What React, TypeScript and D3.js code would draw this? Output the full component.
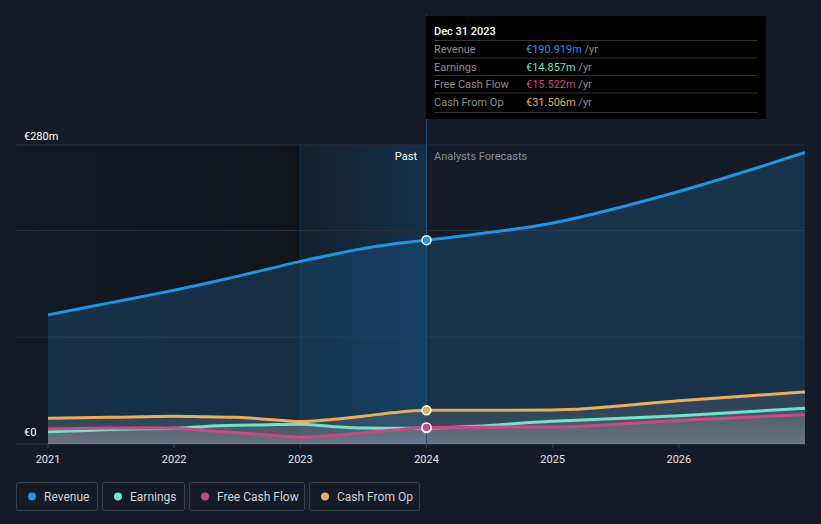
import React from 'react';
import * as d3 from 'd3';

const pastYears = [2021, 2021.25, 2021.5, 2021.75, 2022, 2022.25, 2022.5, 2022.75, 2023, 2023.25, 2023.5, 2023.75, 2024];
const forecastYears = [2024, 2025, 2026, 2027];

const revenuePast = [121, 126.7, 132.4, 138.2, 144, 150.3, 157, 164, 171, 177.2, 183, 187.5, 190.919];
const revenueForecast = [190.919, 207, 236.5, 273];
const earningsPast = [11.5, 12.5, 13.5, 14.2, 14.7, 16.5, 17.5, 18, 18.4, 16.5, 15, 14.8, 14.857];
const earningsForecast = [14.857, 21.2, 26.5, 33.4];
const fcfPast = [14, 14.5, 15, 15, 14.7, 12.5, 10.5, 8.5, 6.3, 8, 10.5, 13, 15.522];
const fcfForecast = [15.522, 16, 22, 27.5];
const cfoPast = [24, 24.5, 25, 25.5, 26, 25.5, 25, 23, 21, 23, 26, 29.5, 31.506];
const cfoForecast = [31.506, 31.8, 40.5, 48.7];

const xTicks = [2021, 2022, 2023, 2024, 2025, 2026];
const yGrid = [0, 100, 200, 280];

type Series = { name: string; color: string; past: number[]; forecast: number[]; tip: string };

const series: Series[] = [
  { name: 'Revenue', color: '#2394e0', past: revenuePast, forecast: revenueForecast, tip: '€190.919m' },
  { name: 'Earnings', color: '#6fe3cb', past: earningsPast, forecast: earningsForecast, tip: '€14.857m' },
  { name: 'Free Cash Flow', color: '#c94a82', past: fcfPast, forecast: fcfForecast, tip: '€15.522m' },
  { name: 'Cash From Op', color: '#e9ae5c', past: cfoPast, forecast: cfoForecast, tip: '€31.506m' },
];

const W = 821;
const H = 524;
const left = 16;
const right = 805;
const bottom = 444;

const x = d3.scaleLinear().domain([2021, 2027]).range([48, 805]);
const y = d3.scaleLinear().domain([0, 280]).range([bottom, 145]);

function points(s: Series): [number, number][] {
  const p: [number, number][] = pastYears.map((yr, i) => [yr, s.past[i]]);
  forecastYears.slice(1).forEach((yr, i) => p.push([yr, s.forecast[i + 1]]));
  return p;
}

const line = d3
  .line<[number, number]>()
  .x((d) => x(d[0]))
  .y((d) => y(d[1]))
  .curve(d3.curveMonotoneX);

const area = d3
  .area<[number, number]>()
  .x((d) => x(d[0]))
  .y0(bottom)
  .y1((d) => y(d[1]))
  .curve(d3.curveMonotoneX);

const font = 'Roboto, "Open Sans", Arial, sans-serif';

export default function App() {
  const x2023 = x(2023);
  const x2024 = x(2024);
  const legendW = [81, 82, 115, 110];
  let lx = 16;
  return (
    <svg width={W} height={H} style={{ position: 'absolute', left: 0, top: 0 }} fontFamily={font}>
      <defs>
        <linearGradient id="pastBg" x1="0" x2="1" y1="0" y2="0">
          <stop offset="0" stopColor="#141a24" />
          <stop offset="1" stopColor="#10141b" />
        </linearGradient>
        <linearGradient id="hiBg" x1="0" x2="1" y1="0" y2="0">
          <stop offset="0" stopColor="#12202e" />
          <stop offset="1" stopColor="#13304a" />
        </linearGradient>
        <linearGradient id="grayFill" x1="0" x2="0" y1="0" y2="1">
          <stop offset="0" stopColor="#8a8a8a" stopOpacity="0.18" />
          <stop offset="1" stopColor="#9a9aa8" stopOpacity="0.28" />
        </linearGradient>
        <clipPath id="plot">
          <rect x={left} y={100} width={right - left} height={bottom - 100} />
        </clipPath>
      </defs>
      <rect width={W} height={H} fill="#151b26" />
      <rect x={left} y={145} width={x2023 - left} height={bottom - 145} fill="url(#pastBg)" />
      <rect x={x2023} y={145} width={x2024 - x2023} height={bottom - 145} fill="url(#hiBg)" />
      <line x1={x2023} x2={x2023} y1={145} y2={bottom} stroke="#172f45" strokeWidth={1} />

      {yGrid.map((v) => (
        <line key={v} x1={left} x2={right} y1={y(v)} y2={y(v)} stroke={v === 0 ? '#3a404c' : '#2a303b'} strokeWidth={1} />
      ))}

      <g clipPath="url(#plot)">
        <path d={area(points(series[0])) || ''} fill="#1f5f90" fillOpacity={0.35} />
        {[series[3], series[1], series[2]].map((s) => (
          <path key={s.name + 'a'} d={area(points(s)) || ''} fill="url(#grayFill)" />
        ))}
        {series.map((s) => (
          <path key={s.name} d={line(points(s)) || ''} fill="none" stroke={s.color} strokeWidth={3} />
        ))}
      </g>

      <line x1={x2024} x2={x2024} y1={15} y2={bottom} stroke="#1f4f73" strokeWidth={1} />
      {series.map((s) => (
        <circle key={s.name + 'c'} cx={x2024} cy={y(s.past[s.past.length - 1])} r={4.5} fill={s.color} stroke="#fff" strokeWidth={1.5} />
      ))}

      {xTicks.map((t) => (
        <g key={t}>
          <line x1={x(t)} x2={x(t)} y1={bottom} y2={bottom + 4} stroke="#3a404c" />
          <text x={x(t)} y={463} textAnchor="middle" fontSize={11} fill="#e6e6e6">
            {t}
          </text>
        </g>
      ))}

      <text x={24} y={140} fontSize={11} fill="#ffffff">€280m</text>
      <text x={24} y={436} fontSize={11} fill="#ffffff">€0</text>
      <text x={417} y={160} fontSize={11} fill="#ffffff" textAnchor="end">Past</text>
      <text x={434} y={160} fontSize={11} fill="#8a8f98">Analysts Forecasts</text>

      <g>
        <rect x={426} y={16} width={340} height={103} fill="#000000" />
        <text x={434} y={35} fontSize={11} fill="#ffffff" fontWeight={500}>Dec 31 2023</text>
        {series.map((s, i) => {
          const ry = 49 + i * 17.5;
          return (
            <g key={s.name + 't'}>
              <line x1={434} x2={758} y1={ry - 8.5} y2={ry - 8.5} stroke="#333" />
              <text x={434} y={ry + 4} fontSize={11} fill="#8d8d8d">{s.name}</text>
              <text x={526} y={ry + 4} fontSize={11} fill={s.color}>
                {s.tip}
                <tspan fill="#8d8d8d"> /yr</tspan>
              </text>
            </g>
          );
        })}
        <line x1={434} x2={758} y1={112.5} y2={112.5} stroke="#333" />
      </g>

      {series.map((s, i) => {
        const bx = lx;
        lx += legendW[i] + 5;
        return (
          <g key={s.name + 'l'}>
            <rect x={bx + 0.5} y={482.5} width={legendW[i]} height={28} rx={2} fill="none" stroke="#3a3f48" />
            <circle cx={bx + 16} cy={496.5} r={4} fill={s.color} />
            <text x={bx + 28} y={500.5} fontSize={12} fill="#d0d2d6">{s.name}</text>
          </g>
        );
      })}
    </svg>
  );
}
